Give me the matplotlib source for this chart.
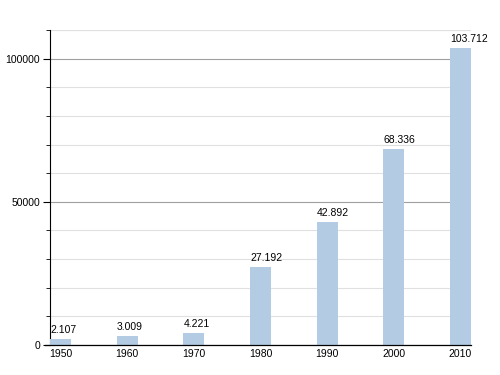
import matplotlib.pyplot as plt
from matplotlib.ticker import MultipleLocator

years = ["1950", "1960", "1970", "1980", "1990", "2000", "2010"]
population = [2107, 3009, 4221, 27192, 42892, 68336, 103712]
value_labels = ["2.107", "3.009", "4.221", "27.192", "42.892", "68.336", "103.712"]

plt.rcParams['font.family'] = ['Liberation Sans', 'DejaVu Sans']

fig = plt.figure(figsize=(5, 3.75), dpi=100)
ax = fig.add_axes([0.1, 0.08, 0.842, 0.84])

bar_w = 0.315
xs = range(len(years))
ax.bar(xs, population, width=bar_w, align='edge', color='#b3cce4', zorder=3)

for x, v, lab in zip(xs, population, value_labels):
    ax.text(x, v + 1500, lab, ha='left', va='bottom', fontsize=7.5, zorder=4)

ax.set_xlim(0, len(years) - 1 + bar_w)
ax.set_ylim(0, 110000)
ax.set_xticks([x + bar_w / 2 for x in xs])
ax.set_xticklabels(years, fontsize=7.5)
ax.tick_params(axis='x', length=0, pad=3)

ax.yaxis.set_major_locator(MultipleLocator(50000))
ax.yaxis.set_minor_locator(MultipleLocator(10000))
ax.tick_params(axis='y', which='major', length=5, width=0.8, labelsize=7.5, pad=2)
ax.tick_params(axis='y', which='minor', length=3, width=0.6)
ax.grid(True, axis='y', which='major', color='#a0a0a0', linewidth=0.8, zorder=1)
ax.grid(True, axis='y', which='minor', color='#e0e0e0', linewidth=0.8, zorder=1)
ax.axhline(110000, color='#e0e0e0', linewidth=0.8, zorder=1)

for side in ['top', 'right']:
    ax.spines[side].set_visible(False)
ax.spines['left'].set_linewidth(0.8)
ax.spines['bottom'].set_linewidth(0.9)
ax.spines['bottom'].set_bounds(-0.07, len(years) - 1 + bar_w)
ax.spines['bottom'].set_zorder(5)

fig.savefig("out.png", dpi=100)
